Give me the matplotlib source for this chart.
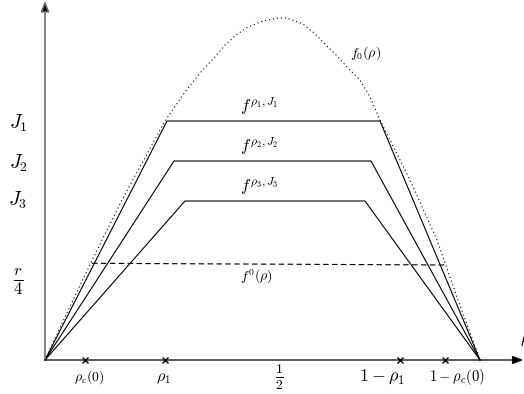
import matplotlib
matplotlib.use("Agg")
import matplotlib.pyplot as plt

plt.rcParams['mathtext.fontset'] = 'cm'
plt.rcParams['font.family'] = ['DejaVu Serif']

# ---- data (sketch units: origin at 0, x to the right, y upward) ----
# dotted f0(rho) curve
f0_x = [0, 28, 57, 78, 120, 140, 155, 170, 180, 191, 203, 218, 233, 242,
        258, 268, 278, 292, 302, 315, 325, 335, 365, 392, 413, 435]
f0_y = [0, 60, 120, 162, 239, 268, 287, 303, 315, 325, 333, 339, 342, 342,
        336, 328, 318, 304, 293, 280, 263, 240, 180, 120, 60, 0]

# trapezoidal fluxes f^{rho_i, J_i}
trap1_x = [0, 122, 335, 435]
trap1_y = [0, 239, 239, 0]
trap2_x = [0, 129, 326, 435]
trap2_y = [0, 199, 199, 0]
trap3_x = [0, 140, 320, 435]
trap3_y = [0, 159, 159, 0]

# dashed f^0(rho)
fzero_x = [47, 402]
fzero_y = [96.7, 95]

# x-axis marks
mark_x = [40, 120, 355, 400]
tick_labels = [r'$\rho_c(0)$', r'$\rho_1$', r'$\frac{1}{2}$', r'$1-\rho_1$', r'$1-\rho_c(0)$']
tick_label_x = [44, 118, 234.5, 337, 412]
tick_label_size = [10, 11.5, 14, 13, 10.5]

# y-axis labels
ylab_text = [r'$J_1$', r'$J_2$', r'$J_3$', r'$\frac{r}{4}$']
ylab_y = [237, 197, 160, 78]
ylab_size = [14, 14, 14, 17]

fig = plt.figure(figsize=(5.24, 3.94), dpi=100)
ax = fig.add_axes([0, 0, 1, 1])
ax.set_xlim(-45, 479)
ax.set_ylim(-34, 360)
ax.axis('off')

# axes arrows
ax.annotate('', xy=(0, 359), xytext=(0, 0),
            arrowprops=dict(arrowstyle='-|>,head_length=0.45,head_width=0.18',
                            mutation_scale=14, lw=1.1, edgecolor='#666666',
                            facecolor='black', shrinkA=0, shrinkB=0))
ax.annotate('', xy=(478, 0), xytext=(0, 0),
            arrowprops=dict(arrowstyle='-|>,head_length=0.45,head_width=0.18',
                            mutation_scale=14, lw=0.9, color='black',
                            shrinkA=0, shrinkB=0))

ax.plot(f0_x, f0_y, color='black', lw=0.8, linestyle=(0, (1, 2.6)))
for tx, ty in [(trap1_x, trap1_y), (trap2_x, trap2_y), (trap3_x, trap3_y)]:
    ax.plot(tx, ty, color='black', lw=0.8)
ax.plot(fzero_x, fzero_y, color='black', lw=0.8, linestyle=(0, (5, 3)))

ax.plot(mark_x, [0] * len(mark_x), linestyle='none', marker='x',
        color='black', markersize=4.5, markeredgewidth=1.0)

for t, x, s in zip(tick_labels, tick_label_x, tick_label_size):
    ax.text(x, -17, t, ha='center', va='center', fontsize=s)

for t, y, s in zip(ylab_text, ylab_y, ylab_size):
    ax.text(-27, y, t, ha='center', va='center', fontsize=s)

ax.text(321, 307, r'$f_0(\rho)$', ha='center', va='center', fontsize=10)
ax.text(214, 254, r'$f^{\rho_1,J_1}$', ha='center', va='center', fontsize=12)
ax.text(214, 214, r'$f^{\rho_2,J_2}$', ha='center', va='center', fontsize=12)
ax.text(214, 174, r'$f^{\rho_3,J_3}$', ha='center', va='center', fontsize=12)
ax.text(211, 83, r'$f^0(\rho)$', ha='center', va='center', fontsize=10)
ax.text(475, 20, r'$\rho$', ha='left', va='center', fontsize=12)

fig.savefig('out.png', dpi=100)
